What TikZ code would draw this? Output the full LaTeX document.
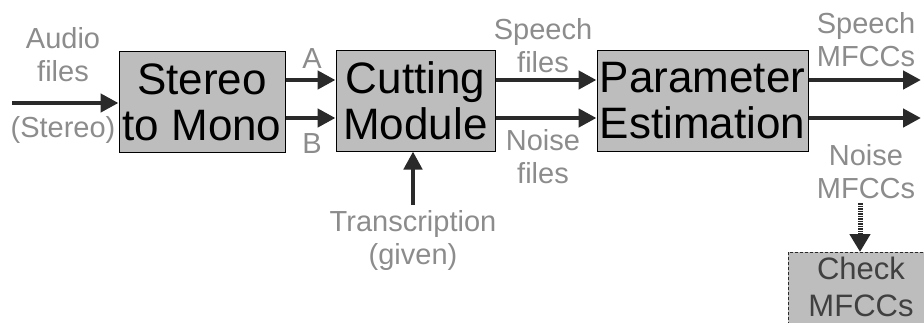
\documentclass[tikz,border=0pt]{standalone}
\usepackage{fontspec}
\setmainfont{Liberation Sans}
\usetikzlibrary{arrows.meta}
\definecolor{boxgray}{HTML}{BDBDBD}
\definecolor{labgray}{HTML}{8C8C8C}
\definecolor{arrdark}{HTML}{2A2A2A}
\tikzset{
  blockbox/.style={draw=black, line width=1pt, fill=boxgray, inner sep=0pt, align=center,
    font=\fontsize{44}{46}\selectfont, text=black},
  lab/.style={text=labgray, align=center, inner sep=0pt, font=\fontsize{29}{33}\selectfont},
  flow/.style={draw=arrdark, line width=4.5pt, -{Triangle[length=18pt,width=18pt]}},
  dflow/.style={draw=arrdark, line width=5pt, dash pattern=on 1.5pt off 1pt, -{Triangle[length=18pt,width=20pt]}},
}
\begin{document}
\begin{tikzpicture}[x=1pt,y=-1pt]
\useasboundingbox (0,0) rectangle (924,322);
% blocks
\node[blockbox, minimum width=166pt, minimum height=101pt] (stm) at (202,102) {Stereo\\to Mono};
\node[blockbox, minimum width=159pt, minimum height=101pt] (cut) at (415.5,100.5) {Cutting\\Module};
\node[blockbox, minimum width=211pt, minimum height=101pt] (par) at (702.5,100.5) {Parameter\\Estimation};
% check box (cut by picture edge)
\begin{scope}
\clip (0,0) rectangle (924,322);
\draw[fill=boxgray, draw=arrdark, line width=1pt, densely dashed] (788,252) rectangle (940,340);
\end{scope}
\node[text=black!75, align=center, inner sep=0pt, font=\fontsize{31}{37}\selectfont] (chk) at (861,287) {Check\\MFCCs};
\coordinate (chktop) at (860,252);
% labels
\node[lab] (audio) at (63,55) {Audio\\files};
\node[lab] (stereo) at (63,130) {(Stereo)};
\node[lab] (la) at (312,59) {A};
\node[lab] (lb) at (312,144) {B};
\node[lab] (sf) at (543,46) {Speech\\files};
\node[lab] (nf) at (543,157) {Noise\\files};
\node[lab] (sm) at (866,40) {Speech\\MFCCs};
\node[lab] (nm) at (866,172) {Noise\\MFCCs};
\node[lab] (tr) at (413,240) {Transcription\\(given)};
% connector anchors
\coordinate (in) at (12,103);
\coordinate (smend) at (921,80);
\coordinate (nmend) at (921,118);
\coordinate (trstart) at (413,205);
\coordinate (nmdown) at (860,203);
% arrows
\draw[flow] (in) -- (in -| stm.west);
\draw[flow] (stm.east |- 0,80) -- (cut.west |- 0,80);
\draw[flow] (stm.east |- 0,118) -- (cut.west |- 0,118);
\draw[flow] (cut.east |- 0,80) -- (par.west |- 0,80);
\draw[flow] (cut.east |- 0,118) -- (par.west |- 0,118);
\draw[flow] (par.east |- smend) -- (smend);
\draw[flow] (par.east |- nmend) -- (nmend);
\draw[flow] (trstart) -- (trstart |- cut.south);
\draw[dflow] (nmdown) -- (chktop);
\end{tikzpicture}
\end{document}
